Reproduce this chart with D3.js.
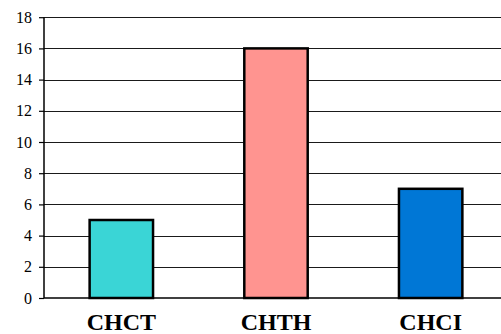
<!DOCTYPE html>
<html>
<head>
<meta charset="utf-8">
<script src="https://cdn.jsdelivr.net/npm/d3@7"></script>
<style>
  html, body { margin: 0; padding: 0; background: #fff; }
  svg { display: block; }
  svg text { font-family: "Liberation Serif", "Times New Roman", serif; }
</style>
</head>
<body>
<svg id="chart" width="501" height="334"></svg>
<script>
// Chart data
const categories = ["CHCT", "CHTH", "CHCI"];
const values = [5, 16, 7];
const barColors = ["#3AD5D6", "#FF9490", "#0077D6"];
const yTicks = [0, 2, 4, 6, 8, 10, 12, 14, 16, 18];

(function () {
  const svg = d3.select("#chart");
  const plotLeft = 44, plotRight = 508, plotTop = 17.2, plotBottom = 298;

  const x = d3.scaleBand().domain(categories).range([plotLeft, plotRight]).padding(0);
  const y = d3.scaleLinear().domain([0, 18]).range([plotBottom, plotTop]);

  // Horizontal gridlines
  svg.append("g")
    .selectAll("line")
    .data(yTicks.filter(d => d > 0))
    .join("line")
    .attr("x1", plotLeft).attr("x2", 501)
    .attr("y1", d => Math.round(y(d)) + 0.5)
    .attr("y2", d => Math.round(y(d)) + 0.5)
    .attr("stroke", "#1a1a1a")
    .attr("stroke-width", 1.2);

  // Bars
  const barW = x.bandwidth() * 0.41;
  svg.append("g")
    .selectAll("rect")
    .data(categories)
    .join("rect")
    .attr("x", d => x(d) + (x.bandwidth() - barW) / 2)
    .attr("y", (d, i) => y(values[i]))
    .attr("width", barW)
    .attr("height", (d, i) => y(0) - y(values[i]))
    .attr("fill", (d, i) => barColors[i])
    .attr("stroke", "#000")
    .attr("stroke-width", 2.5);

  // Y axis
  const yAxis = d3.axisLeft(y).tickValues(yTicks).tickSize(5).tickPadding(7);
  const gy = svg.append("g").attr("transform", `translate(${plotLeft},0)`).call(yAxis);
  gy.attr("font-family", null);
  gy.select(".domain").remove();
  gy.selectAll(".tick line").attr("stroke", "#000").attr("stroke-width", 1.2);
  gy.selectAll(".tick text")
    .style("font-family", "'Liberation Serif', 'Times New Roman', serif")
    .style("font-size", "16px")
    .attr("fill", "#000");

  // Axis lines
  svg.append("line")
    .attr("x1", plotLeft).attr("x2", plotLeft)
    .attr("y1", y(18)).attr("y2", y(0))
    .attr("stroke", "#000").attr("stroke-width", 1.5);
  svg.append("line")
    .attr("x1", plotLeft).attr("x2", 501)
    .attr("y1", y(0)).attr("y2", y(0))
    .attr("stroke", "#000").attr("stroke-width", 1.5);

  // Category labels
  svg.append("g")
    .selectAll("text")
    .data(categories)
    .join("text")
    .attr("x", d => x(d) + x.bandwidth() / 2)
    .attr("y", 330)
    .attr("text-anchor", "middle")
    .style("font-family", "'Liberation Serif', 'Times New Roman', serif")
    .style("font-weight", "bold")
    .style("font-size", "24px")
    .attr("fill", "#000")
    .text(d => d);
})();
</script>
</body>
</html>
